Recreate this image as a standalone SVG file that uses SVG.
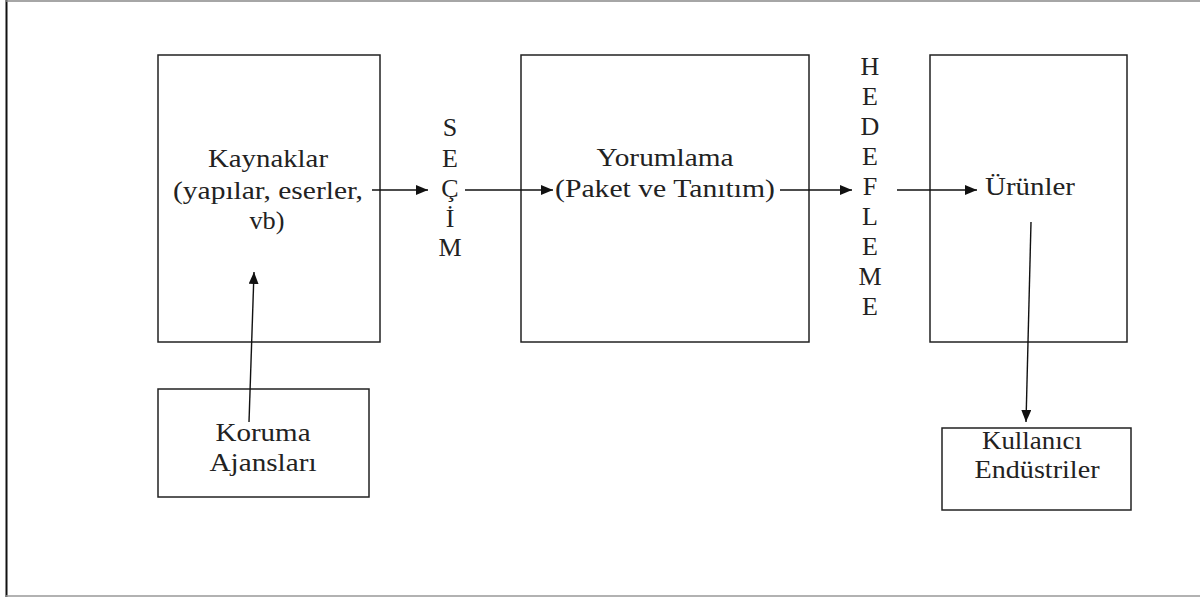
<svg xmlns="http://www.w3.org/2000/svg" width="1200" height="597" viewBox="0 0 1200 597">
<style>
.box{fill:none;stroke:#222;stroke-width:1.5}
.t{font-size:26px;fill:#222;text-anchor:middle}
.c{stroke:#111;stroke-width:1.4;fill:none;marker-end:url(#ah)}
</style>
<defs>
<marker id="ah" viewBox="0 0 12 10" refX="12" refY="5" markerWidth="12" markerHeight="10" markerUnits="userSpaceOnUse" orient="auto">
<path d="M0,0 L12,5 L0,10 z" fill="#111"/>
</marker>
</defs>
<rect width="1200" height="597" fill="#fff"/>
<g id="frame">
<line x1="6.5" y1="0" x2="6.5" y2="597" stroke="#111" stroke-width="2"/>
<line x1="6" y1="1" x2="1200" y2="1" stroke="#888" stroke-width="1.5"/>
<line x1="6" y1="596" x2="1200" y2="596" stroke="#999" stroke-width="1.5"/>
</g>
<g font-family="'Liberation Serif', 'Times New Roman', serif">
<g id="kaynaklar">
<rect class="box" x="158" y="55" width="222" height="287"/>
<text class="t" x="268" y="167" textLength="120" lengthAdjust="spacingAndGlyphs">Kaynaklar</text>
<text class="t" x="268" y="199" textLength="190" lengthAdjust="spacingAndGlyphs">(yapılar, eserler,</text>
<text class="t" x="267" y="229" textLength="35" lengthAdjust="spacingAndGlyphs">vb)</text>
</g>
<g id="secim">
<text class="t" x="450" y="136">S</text>
<text class="t" x="450" y="167">E</text>
<text class="t" x="450" y="197">Ç</text>
<text class="t" x="450" y="227">İ</text>
<text class="t" x="450" y="256">M</text>
</g>
<g id="yorumlama">
<rect class="box" x="521" y="55" width="288" height="287"/>
<text class="t" x="665" y="166" textLength="137" lengthAdjust="spacingAndGlyphs">Yorumlama</text>
<text class="t" x="665" y="197" textLength="220" lengthAdjust="spacingAndGlyphs">(Paket ve Tanıtım)</text>
</g>
<g id="hedefleme">
<text class="t" x="870" y="75">H</text>
<text class="t" x="870" y="105">E</text>
<text class="t" x="870" y="135">D</text>
<text class="t" x="870" y="165">E</text>
<text class="t" x="870" y="195">F</text>
<text class="t" x="870" y="225">L</text>
<text class="t" x="870" y="255">E</text>
<text class="t" x="870" y="285">M</text>
<text class="t" x="870" y="315">E</text>
</g>
<g id="urunler">
<rect class="box" x="930" y="55" width="197" height="287"/>
<text class="t" x="1030" y="195" textLength="90" lengthAdjust="spacingAndGlyphs">Ürünler</text>
</g>
<g id="koruma">
<rect class="box" x="158" y="389" width="211" height="108"/>
<text class="t" x="263" y="441" textLength="95" lengthAdjust="spacingAndGlyphs">Koruma</text>
<text class="t" x="263" y="471" textLength="107" lengthAdjust="spacingAndGlyphs">Ajansları</text>
</g>
<g id="kullanici">
<rect class="box" x="942" y="428" width="189" height="82"/>
<text class="t" x="1032" y="449" textLength="100" lengthAdjust="spacingAndGlyphs">Kullanıcı</text>
<text class="t" x="1037" y="478" textLength="125" lengthAdjust="spacingAndGlyphs">Endüstriler</text>
</g>
</g>
<g id="connectors">
<line class="c" x1="372" y1="190" x2="428" y2="190"/>
<line class="c" x1="465" y1="190" x2="553" y2="190"/>
<line class="c" x1="780" y1="190" x2="852" y2="190"/>
<line class="c" x1="897" y1="190" x2="977" y2="190"/>
<line class="c" x1="249" y1="422" x2="254" y2="272"/>
<line class="c" x1="1031" y1="222" x2="1026" y2="422"/>
</g>
</svg>
